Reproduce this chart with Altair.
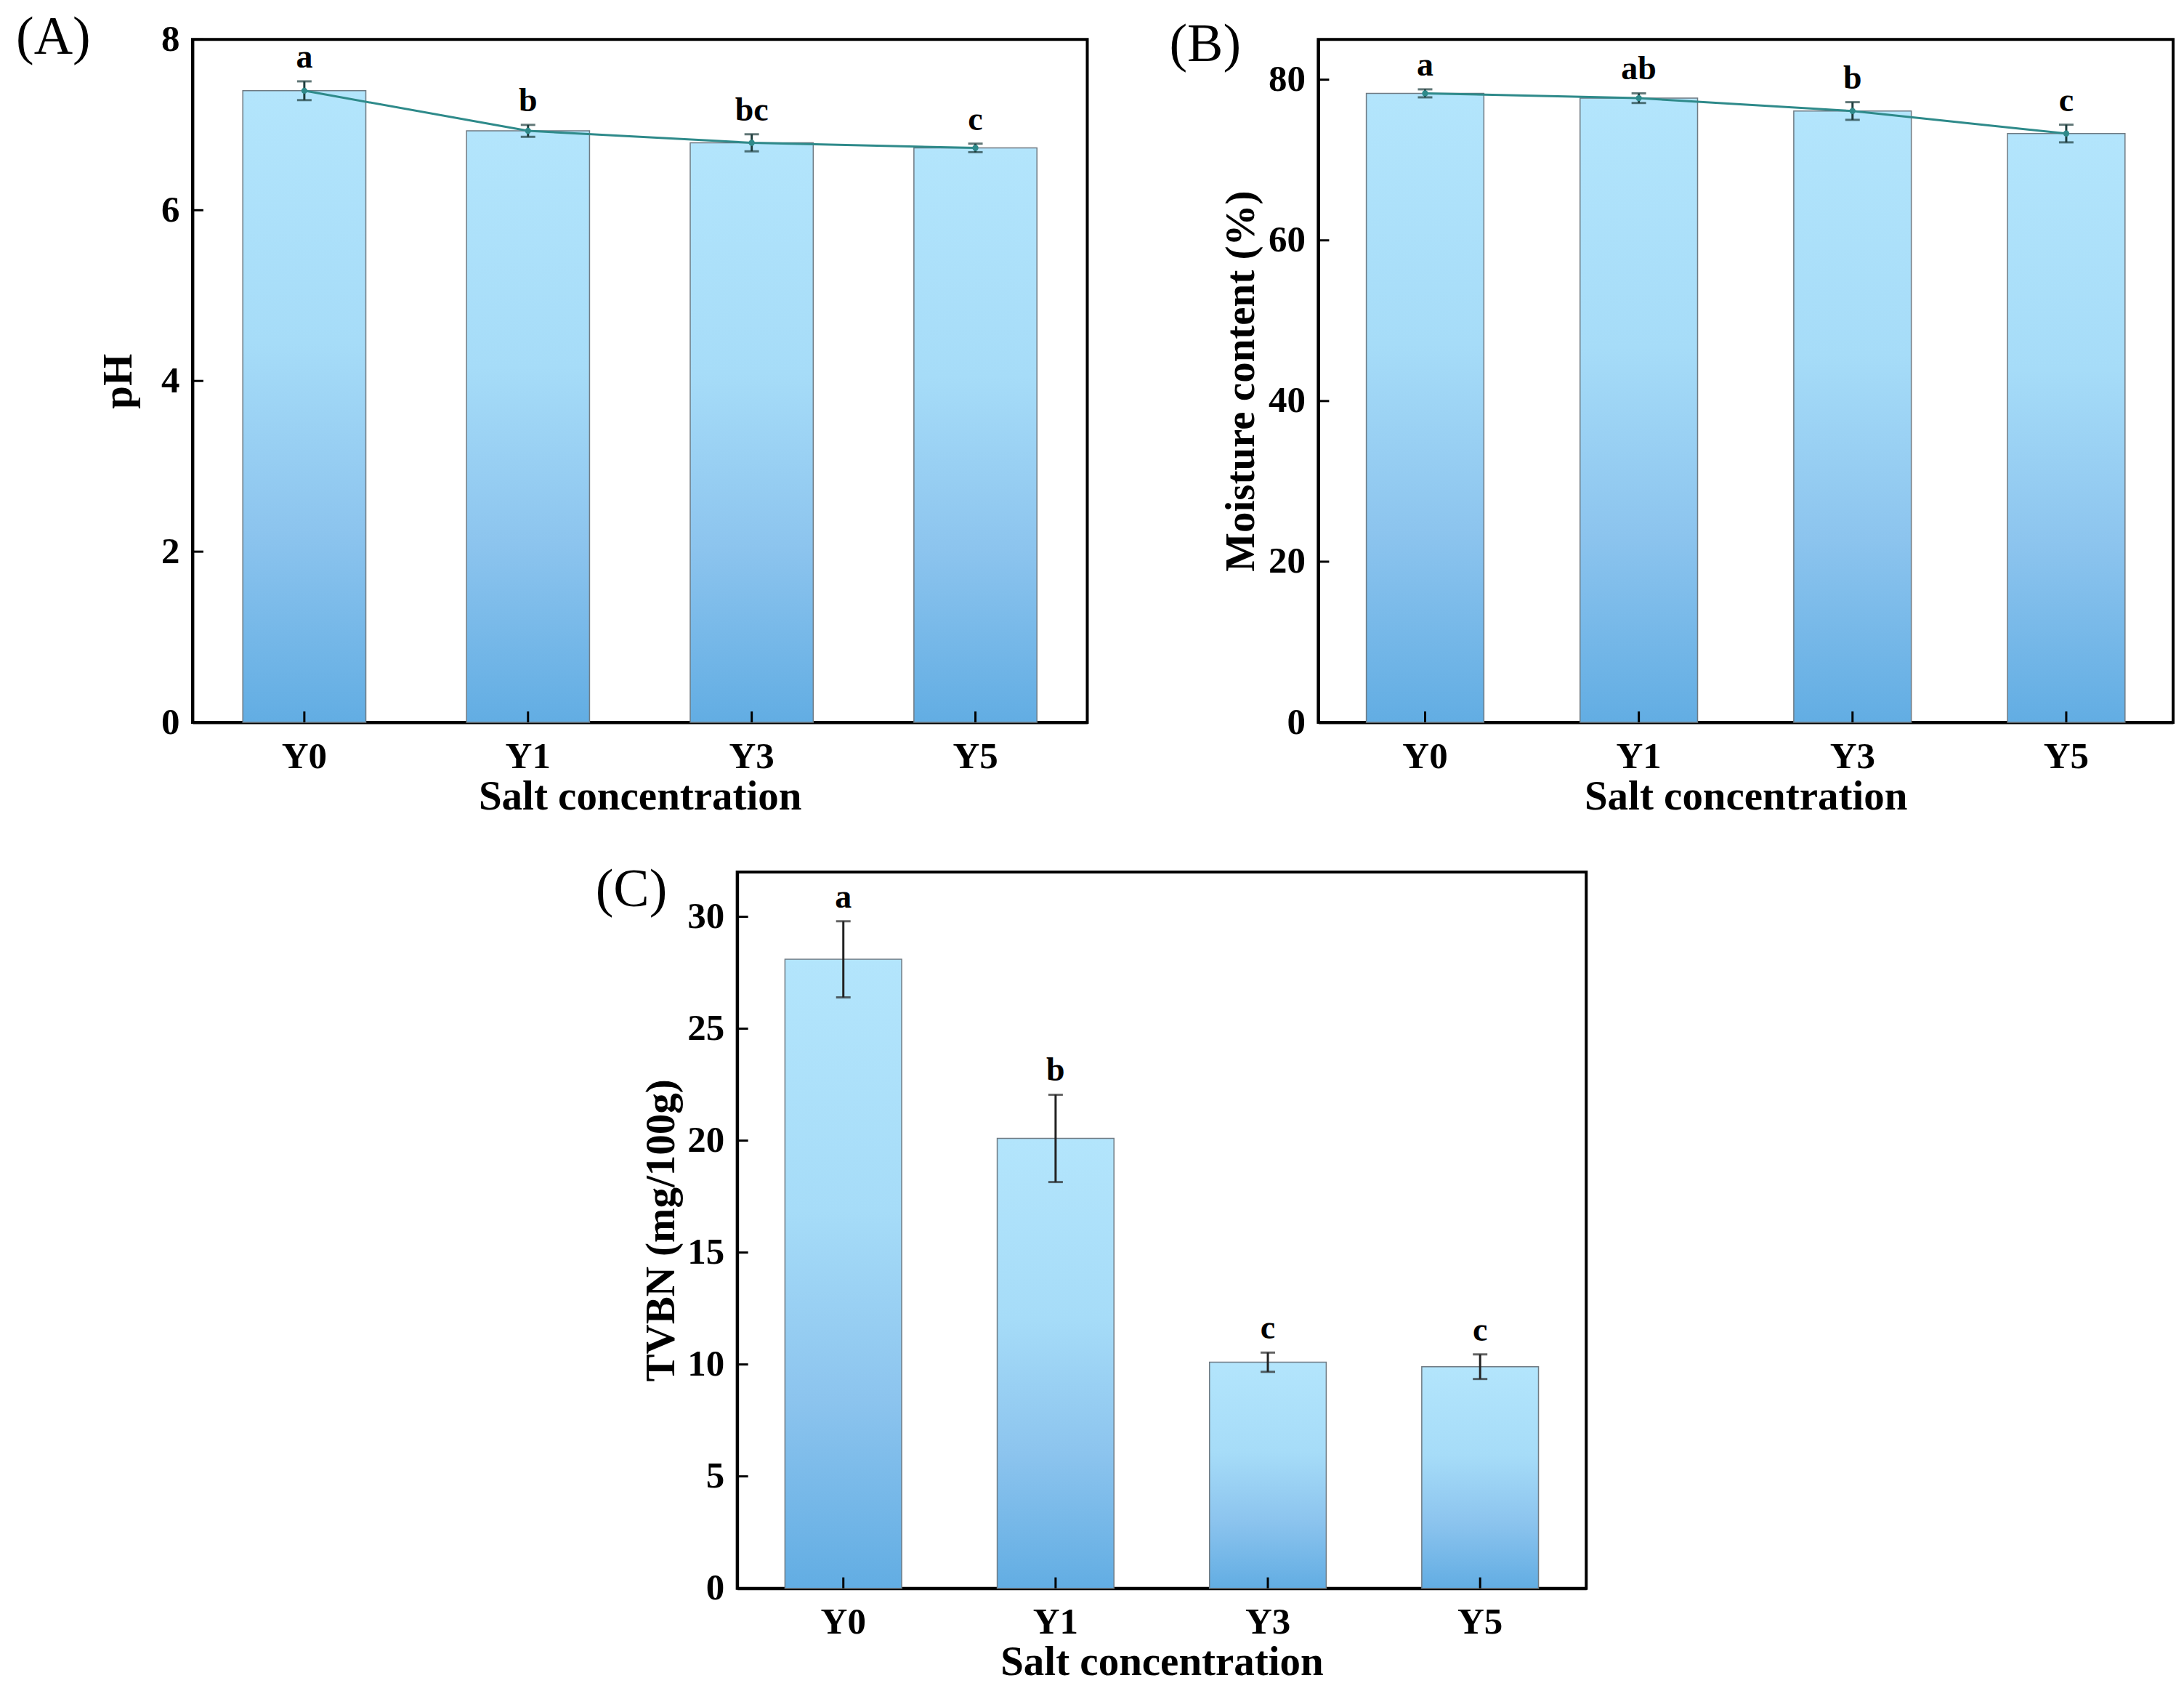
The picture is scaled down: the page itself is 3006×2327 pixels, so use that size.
import altair as alt
import pandas as pd

groups = ["Y0", "Y1", "Y3", "Y5"]

ph_mean = [7.40, 6.93, 6.79, 6.73]
ph_err = [0.11, 0.07, 0.10, 0.05]
ph_letters = ["a", "b", "bc", "c"]
ph_ticks = [0, 2, 4, 6, 8]

moist_mean = [78.3, 77.7, 76.1, 73.3]
moist_err = [0.5, 0.6, 1.1, 1.1]
moist_letters = ["a", "ab", "b", "c"]
moist_ticks = [0, 20, 40, 60, 80]

tvbn_mean = [28.1, 20.1, 10.1, 9.9]
tvbn_err = [1.7, 1.95, 0.43, 0.55]
tvbn_letters = ["a", "b", "c", "c"]
tvbn_ticks = [0, 5, 10, 15, 20, 25, 30]

SERIF = "Liberation Serif"
TEAL = "#2e8a8a"

bar_fill = alt.Gradient(
    gradient="linear",
    stops=[
        alt.GradientStop(color="#b3e5fc", offset=0),
        alt.GradientStop(color="#a6dcf8", offset=0.4),
        alt.GradientStop(color="#8cc4ee", offset=0.7),
        alt.GradientStop(color="#62ade3", offset=1),
    ],
    x1=0, x2=0, y1=0, y2=1,
)


def panel(means, errs, letters, ticks, domain, ytitle, ypad, label, lab_x, lab_y,
          width, height, with_line, err_color):
    df = pd.DataFrame({
        "group": groups,
        "mean": means,
        "lo": [m - e for m, e in zip(means, errs)],
        "hi": [m + e for m, e in zip(means, errs)],
        "letter": letters,
    })
    base = alt.Chart(df)

    x = alt.X("group:N", sort=groups,
              scale=alt.Scale(paddingInner=0.45, paddingOuter=0.225),
              axis=alt.Axis(title="Salt concentration", labelAngle=0,
                            labelPadding=22, titlePadding=2))
    xs = alt.X("group:N", sort=groups)
    y = alt.Y("mean:Q", scale=alt.Scale(domain=domain, nice=False, zero=True),
              axis=alt.Axis(values=ticks, format="d", title=ytitle,
                            labelPadding=18, titlePadding=ypad))

    bars = base.mark_bar(color=bar_fill, stroke="#6f7a82", strokeWidth=1.5).encode(x=x, y=y)

    # inward ticks
    xticks = base.mark_rule(color="black", strokeWidth=3).encode(
        x=xs, y=alt.value(height), y2=alt.value(height - 15))
    yticks = alt.Chart(pd.DataFrame({"v": ticks})).mark_rule(
        color="black", strokeWidth=3).encode(
        y="v:Q", x=alt.value(0), x2=alt.value(15))

    err = base.mark_rule(color=err_color, strokeWidth=3).encode(x=xs, y="lo:Q", y2="hi:Q")
    cap_lo = base.mark_tick(color=err_color, size=20, thickness=3).encode(x=xs, y="lo:Q")
    cap_hi = base.mark_tick(color=err_color, size=20, thickness=3).encode(x=xs, y="hi:Q")

    text = base.mark_text(baseline="bottom", dy=-9, font=SERIF, fontSize=46,
                          fontWeight="bold", color="black").encode(
        x=xs, y="hi:Q", text="letter:N")

    tag = alt.Chart(pd.DataFrame({"t": [label]})).mark_text(
        align="left", baseline="alphabetic", font=SERIF, fontSize=74,
        color="black").encode(text="t:N", x=alt.value(lab_x), y=alt.value(lab_y))

    layers = [bars, xticks, yticks]
    if with_line:
        layers.append(base.mark_line(color=TEAL, strokeWidth=3).encode(x=xs, y="mean:Q"))
    layers += [err, cap_lo, cap_hi]
    if with_line:
        layers.append(base.mark_point(filled=True, color=TEAL, size=70, opacity=1).encode(
            x=xs, y="mean:Q"))
    layers += [text, tag]
    return alt.layer(*layers).properties(width=width, height=height)


chart_a = panel(ph_mean, ph_err, ph_letters, ph_ticks, [0, 8], "pH", 29, "(A)",
                -243, 20, 1232, 940, True, "#1e3d3d")
chart_b = panel(moist_mean, moist_err, moist_letters, moist_ticks, [0, 85],
                "Moisture content (%)", 8, "(B)", -205, 30, 1177, 940, True, "#1e3d3d")
chart_c = panel(tvbn_mean, tvbn_err, tvbn_letters, tvbn_ticks, [0, 32],
                "TVBN (mg/100g)", 6, "(C)", -195, 47, 1169, 986, False, "#222222")

spacer = alt.Chart(pd.DataFrame({"v": [0]})).mark_point(opacity=0).encode(
    x=alt.X("v:Q", axis=None), y=alt.Y("v:Q", axis=None)
).properties(width=650, height=986, view=alt.ViewBackground(strokeOpacity=0))

top = alt.hconcat(chart_a, chart_b, spacing=318, bounds="flush").resolve_scale(
    x="independent", y="independent")
bottom = alt.hconcat(spacer, chart_c, spacing=100, bounds="flush").resolve_scale(
    x="independent", y="independent")

chart = alt.vconcat(top, bottom, spacing=60).resolve_scale(
    x="independent", y="independent"
).properties(
    padding={"left": 12, "top": 5, "right": 5, "bottom": 5}
).configure_view(
    stroke="black", strokeWidth=4
).configure_axis(
    labelFont=SERIF, labelFontWeight="bold", labelFontSize=51, labelColor="black",
    titleFont=SERIF, titleFontWeight="bold", titleFontSize=57, titleColor="black",
    domainColor="black", domainWidth=4, ticks=False, tickSize=0, grid=False,
)

chart.save("out.html", embed_options={"renderer": "svg", "actions": False})
